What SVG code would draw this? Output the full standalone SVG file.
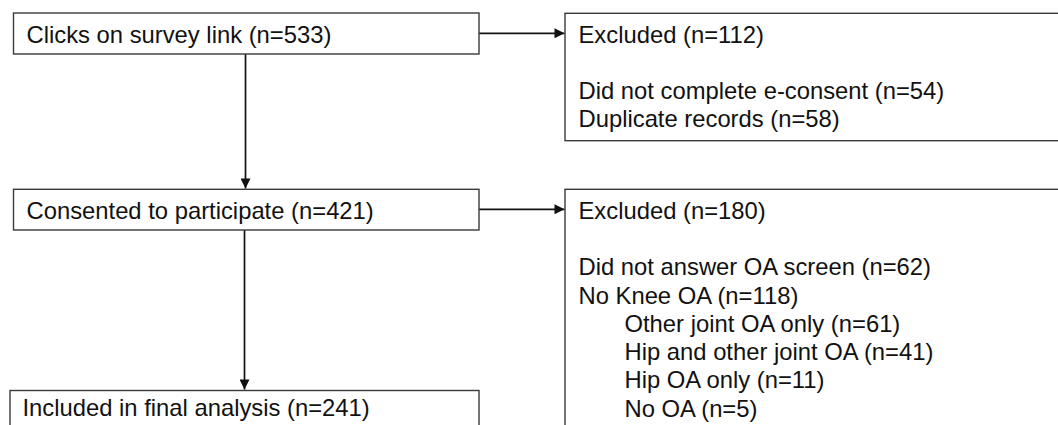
<svg xmlns="http://www.w3.org/2000/svg" width="1058" height="425" viewBox="0 0 1058 425">
<style>
.box{fill:#fff;stroke:#3a3a3a;stroke-width:1.4}
.t{font-family:"Liberation Sans",Arial,sans-serif;font-size:23.8px;fill:#111}
.c{stroke:#111;stroke-width:1.7;fill:none}
</style>
<defs>
<marker id="ah" viewBox="0 0 10 10" refX="10" refY="5" markerWidth="11" markerHeight="10" markerUnits="userSpaceOnUse" orient="auto">
<path d="M0,0 L10,5 L0,10 Z" fill="#111"/>
</marker>
</defs>
<rect width="1058" height="425" fill="#fff"/>
<g id="connectors">
<line class="c" x1="245.5" y1="54" x2="245.5" y2="188.5" marker-end="url(#ah)"/>
<line class="c" x1="244.5" y1="230" x2="244.5" y2="389.5" marker-end="url(#ah)"/>
<line class="c" x1="479" y1="33.3" x2="564.5" y2="33.3" marker-end="url(#ah)"/>
<line class="c" x1="479" y1="209.3" x2="564.5" y2="209.3" marker-end="url(#ah)"/>
</g>
<g id="clicks">
<rect class="box" x="13.5" y="13" width="465.5" height="41"/>
<text class="t" x="26.5" y="42.5">Clicks on survey link (n=533)</text>
</g>
<g id="consented">
<rect class="box" x="13.5" y="189.3" width="465.5" height="40.7"/>
<text class="t" x="26.5" y="218.8">Consented to participate (n=421)</text>
</g>
<g id="included">
<rect class="box" x="10" y="390.5" width="469" height="45"/>
<text class="t" x="22.5" y="416">Included in final analysis (n=241)</text>
</g>
<g id="excluded1">
<rect class="box" x="565" y="13.3" width="500" height="127.4"/>
<text class="t" x="578.5" y="42.5">Excluded (n=112)</text>
<text class="t" x="578.5" y="99.2">Did not complete e-consent (n=54)</text>
<text class="t" x="578.5" y="127.4">Duplicate records (n=58)</text>
</g>
<g id="excluded2">
<rect class="box" x="565" y="189.3" width="500" height="250"/>
<text class="t" x="578.5" y="218.6">Excluded (n=180)</text>
<text class="t" x="578.5" y="275.2">Did not answer OA screen (n=62)</text>
<text class="t" x="578.5" y="303.5">No Knee OA (n=118)</text>
<text class="t" x="624.5" y="331.8">Other joint OA only (n=61)</text>
<text class="t" x="624.5" y="360.1">Hip and other joint OA (n=41)</text>
<text class="t" x="624.5" y="388.4">Hip OA only (n=11)</text>
<text class="t" x="624.5" y="416.7">No OA (n=5)</text>
</g>
</svg>
